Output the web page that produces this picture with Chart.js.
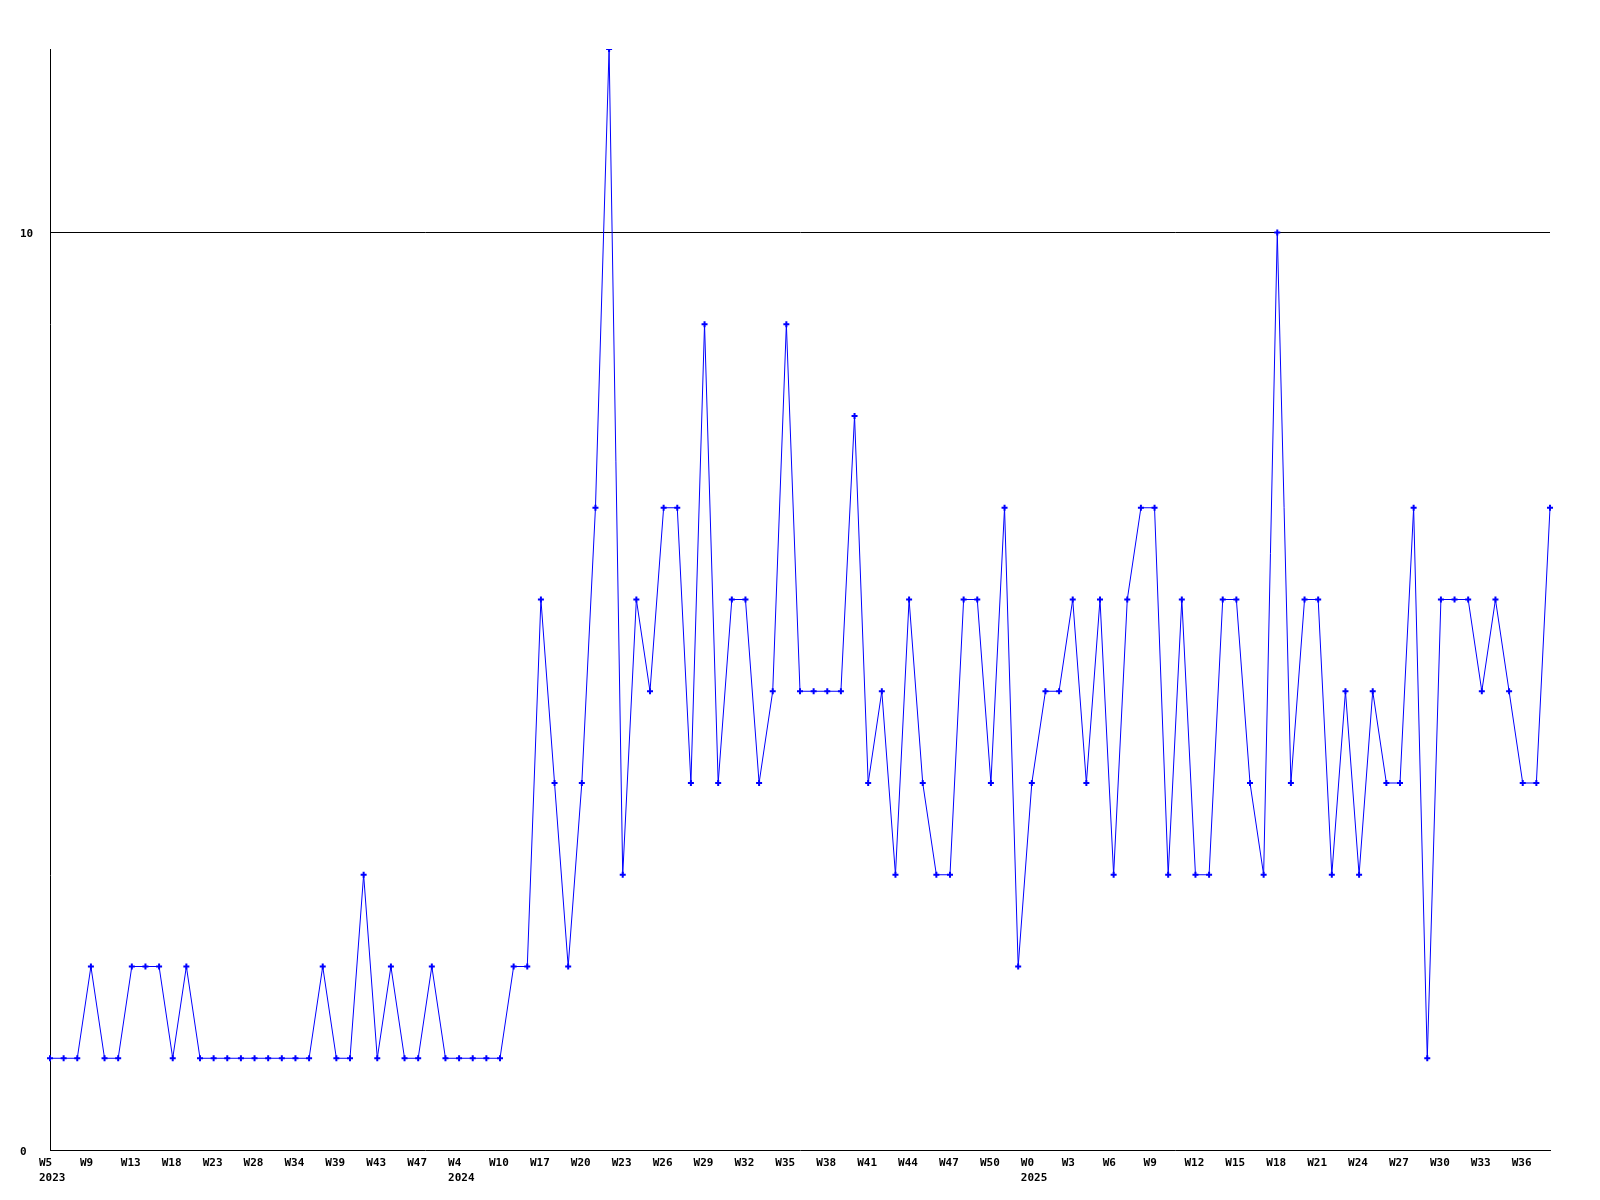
<!DOCTYPE html>
<html>
<head>
<meta charset="utf-8">
<script src="https://cdn.jsdelivr.net/npm/chart.js@4.4.0/dist/chart.umd.min.js"></script>
<style>
html, body { margin: 0; padding: 0; background: #fff; }
canvas { display: block; }
</style>
</head>
<body>
<canvas id="grafico" width="1600" height="1200"></canvas>
<script>
// Semanas por año (las de 2023 y comienzo de 2024 tienen huecos)
const semanas2023 = ['W5','W6','W8','W9','W10','W12','W13','W15','W16','W18',
    'W19','W21','W23','W25','W26','W28','W30','W32','W34','W36',
    'W37','W39','W40','W41','W43','W44','W45','W47','W49','W51'];
const semanas2024 = ['W4','W6','W8','W10','W12','W15','W17','W18','W19','W20',
    'W21','W22','W23','W24','W25','W26','W27','W28','W29','W30',
    'W31','W32','W33','W34','W35','W36','W37','W38','W39','W40',
    'W41','W42','W43','W44','W45','W46','W47','W48','W49','W50',
    'W51','W52'];
const semanas2025 = ['W0','W1','W2','W3','W4','W5','W6','W7','W8','W9',
    'W10','W11','W12','W13','W14','W15','W16','W17','W18','W19',
    'W20','W21','W22','W23','W24','W25','W26','W27','W28','W29',
    'W30','W31','W32','W33','W34','W35','W36','W37','W38'];

const valores = [
    1,1,1,2,1,1,2,2,2,1,
    2,1,1,1,1,1,1,1,1,1,
    2,1,1,3,1,2,1,1,2,1,
    1,1,1,1,2,2,6,4,2,4,
    7,12,3,6,5,7,7,4,9,4,
    6,6,4,5,9,5,5,5,5,8,
    4,5,3,6,4,3,3,6,6,4,
    7,2,4,5,5,6,4,6,3,6,
    7,7,3,6,3,3,6,6,4,3,
    10,4,6,6,3,5,3,5,4,4,
    7,1,6,6,6,5,6,5,4,4,
    7
];

const ticksY = [0, 10];
const maxY = 12;

function armarEtiquetas(){
    let etiquetas = [];
    [['2023', semanas2023], ['2024', semanas2024], ['2025', semanas2025]].forEach(function(par){
        par[1].forEach(function(semana, i){
            etiquetas.push(i === 0 ? [semana, par[0]] : semana);
        });
    });
    return etiquetas;
}

const fuente = {
    family: '"DejaVu Sans Mono", "Liberation Mono", monospace',
    size: 11,
    weight: 'bold',
    lineHeight: 1.4
};

let grafico = new Chart(
    document.getElementById('grafico').getContext('2d'),
    {
        type: 'line',
        data: {
            labels: armarEtiquetas(),
            datasets: [{
                data: valores,
                borderColor: '#0000ff',
                backgroundColor: '#0000ff',
                borderWidth: 1,
                tension: 0,
                fill: false,
                pointStyle: 'cross',
                pointRadius: 3,
                pointBorderWidth: 2,
                pointHoverRadius: 3
            }]
        },
        options: {
            responsive: false,
            animation: false,
            devicePixelRatio: 1,
            layout: {
                padding: { left: 20, right: 50, top: 49, bottom: 0 }
            },
            plugins: {
                legend: { display: false },
                tooltip: { enabled: false }
            },
            scales: {
                x: {
                    grid: { display: false },
                    border: { display: true, color: '#000', width: 1 },
                    ticks: {
                        autoSkip: false,
                        maxRotation: 0,
                        minRotation: 0,
                        align: 'start',
                        labelOffset: -11,
                        padding: -3,
                        color: '#000',
                        font: fuente,
                        callback: function(valor, indice){
                            return indice % 3 === 0 ? this.getLabelForValue(valor) : null;
                        }
                    },
                    afterFit: function(escala){
                        escala.height = 50;
                    }
                },
                y: {
                    min: 0,
                    max: maxY,
                    grid: {
                        drawTicks: false,
                        lineWidth: 1,
                        color: function(ctx){
                            return ctx.tick && ctx.tick.value === 10 ? '#000' : 'rgba(0,0,0,0)';
                        }
                    },
                    border: { display: true, color: '#000', width: 1 },
                    ticks: {
                        crossAlign: 'far',
                        labelOffset: 2,
                        color: '#000',
                        font: fuente
                    },
                    afterBuildTicks: function(escala){
                        escala.ticks = ticksY.map(function(v){ return { value: v }; });
                    },
                    afterFit: function(escala){
                        escala.width = 30;
                    }
                }
            }
        }
    });
</script>
</body>
</html>
